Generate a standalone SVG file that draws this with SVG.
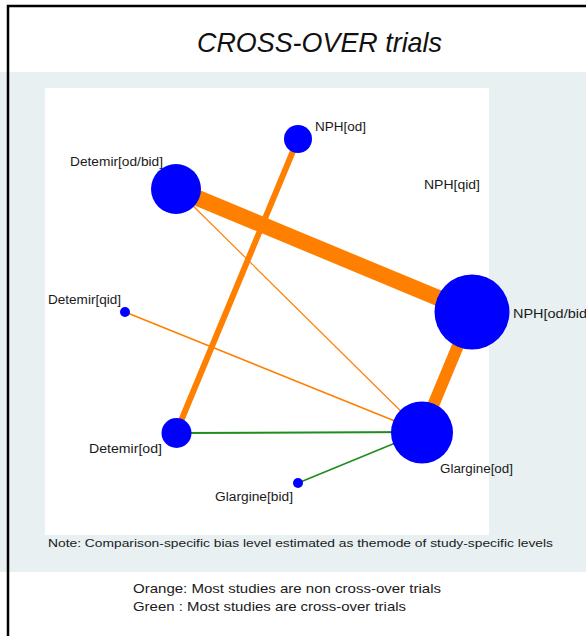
<svg xmlns="http://www.w3.org/2000/svg" width="586" height="636" viewBox="0 0 586 636">
  <style>
    .title { font-family: "Liberation Sans", Arial, sans-serif; font-style: italic; font-size: 28px; fill: #111; }
    .lbl { font-family: "Liberation Sans", Arial, sans-serif; font-size: 12px; fill: #1a1a1a; }
    .note { font-family: "Liberation Sans", Arial, sans-serif; font-size: 11.5px; fill: #1a1a1a; }
    .legend { font-family: "Liberation Sans", Arial, sans-serif; font-size: 13px; fill: #1a1a1a; }
    .node { fill: #0000FF; }
    .orange { stroke: #FF8000; stroke-linecap: butt; fill: none; }
    .green { stroke: #1E8C1E; fill: none; }
  </style>

  <!-- page background and frame -->
  <rect x="0" y="0" width="586" height="636" fill="#FFFFFF"/>
  <rect x="0" y="72" width="586" height="500" fill="#E8F0F2"/>
  <path d="M8 636 V6 H586" fill="none" stroke="#000" stroke-width="2.5"/>

  <text class="title" x="319.5" y="52" text-anchor="middle" textLength="245" lengthAdjust="spacingAndGlyphs">CROSS-OVER trials</text>

  <!-- plot region -->
  <rect x="45" y="88" width="444" height="447" fill="#FFFFFF"/>

  <g id="connectors">
    <line class="orange" x1="176" y1="189" x2="472" y2="312" stroke-width="16"/>
    <line class="orange" x1="298" y1="139" x2="176" y2="433" stroke-width="6"/>
    <line class="orange" x1="472" y1="312" x2="422" y2="432" stroke-width="12"/>
    <line class="orange" x1="176" y1="189" x2="422" y2="432" stroke-width="1.2"/>
    <line class="orange" x1="125" y1="312" x2="422" y2="432" stroke-width="1.6"/>
    <line class="green" x1="176" y1="433" x2="422" y2="432" stroke-width="2"/>
    <line class="green" x1="298" y1="483" x2="422" y2="432" stroke-width="1.6"/>
  </g>

  <g id="nph-od">
    <circle class="node" cx="298" cy="139" r="14"/>
    <text class="lbl" x="315" y="131" textLength="51" lengthAdjust="spacingAndGlyphs">NPH[od]</text>
  </g>
  <g id="nph-qid">
    <text class="lbl" x="424" y="189" textLength="56" lengthAdjust="spacingAndGlyphs">NPH[qid]</text>
  </g>
  <g id="detemir-od-bid">
    <circle class="node" cx="176" cy="189" r="25"/>
    <text class="lbl" x="70" y="166" textLength="93" lengthAdjust="spacingAndGlyphs">Detemir[od/bid]</text>
  </g>
  <g id="nph-od-bid">
    <circle class="node" cx="472" cy="312" r="37.5"/>
    <text class="lbl" x="513" y="318" textLength="78" lengthAdjust="spacingAndGlyphs">NPH[od/bid]</text>
  </g>
  <g id="detemir-qid">
    <circle class="node" cx="125" cy="312" r="5"/>
    <text class="lbl" x="48" y="304" textLength="73" lengthAdjust="spacingAndGlyphs">Detemir[qid]</text>
  </g>
  <g id="detemir-od">
    <circle class="node" cx="176.5" cy="433" r="15"/>
    <text class="lbl" x="89" y="453" textLength="73" lengthAdjust="spacingAndGlyphs">Detemir[od]</text>
  </g>
  <g id="glargine-od">
    <circle class="node" cx="422" cy="432.5" r="31"/>
    <text class="lbl" x="440" y="473" textLength="73" lengthAdjust="spacingAndGlyphs">Glargine[od]</text>
  </g>
  <g id="glargine-bid">
    <circle class="node" cx="298" cy="483" r="5"/>
    <text class="lbl" x="215" y="501" textLength="78" lengthAdjust="spacingAndGlyphs">Glargine[bid]</text>
  </g>

  <text class="note" x="48" y="547" textLength="505" lengthAdjust="spacingAndGlyphs">Note: Comparison-specific bias level estimated as themode of study-specific levels</text>

  <text class="legend" x="133" y="593" textLength="308" lengthAdjust="spacingAndGlyphs">Orange:  Most studies are non cross-over trials</text>
  <text class="legend" x="133" y="611" textLength="273" lengthAdjust="spacingAndGlyphs">Green : Most studies are cross-over trials</text>
</svg>
